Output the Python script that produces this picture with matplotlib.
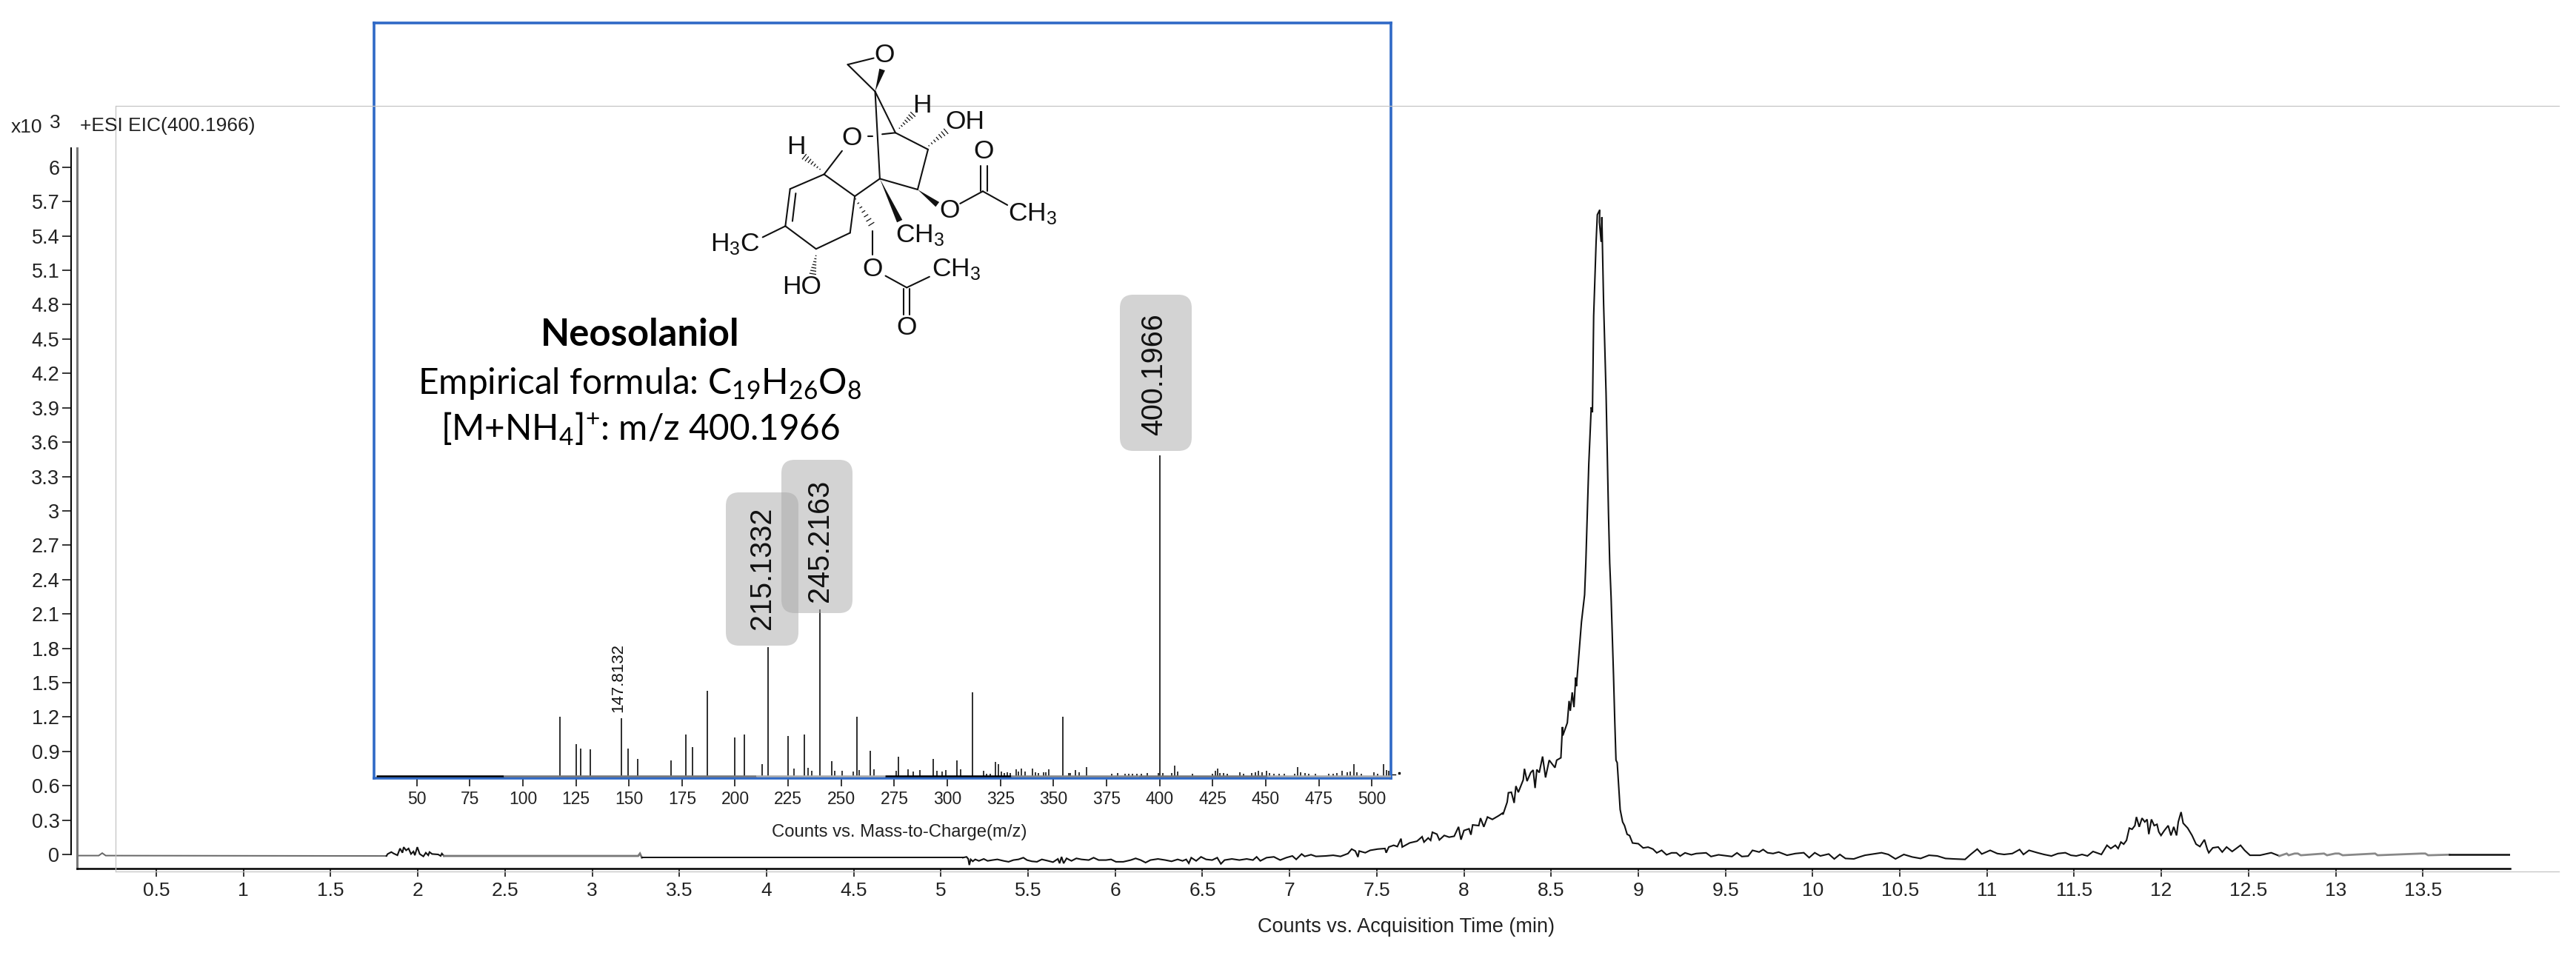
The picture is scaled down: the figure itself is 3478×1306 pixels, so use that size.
import matplotlib
matplotlib.use("Agg")
import matplotlib.pyplot as plt
from matplotlib.patches import FancyBboxPatch, Polygon
import numpy as np

W, H = 3478, 1306

plt.rcParams["font.family"] = ["Liberation Sans", "DejaVu Sans"]
plt.rcParams["mathtext.default"] = "regular"

# ==============================
# EIC TRACE (min, counts x10^3)
# ==============================
trace_start = [(0.05, -0.01), (0.17, -0.01), (0.19, 0.012), (0.21, -0.01), (1.82, -0.013)]

trace_bump = [
    (1.827, 0.004), (1.848, 0.021), (1.862, 0.008), (1.883, -0.007), (1.898, 0.052), (1.912, 0.015),
    (1.919, 0.064), (1.933, 0.036), (1.947, 0.052), (1.961, 0.004), (1.975, 0.026), (1.983, -0.007),
    (1.997, 0.064), (2.011, 0.004), (2.032, -0.017), (2.046, 0.015), (2.06, -0.007), (2.067, 0.021),
    (2.082, 0.004), (2.117, 0.0), (2.131, -0.013), (2.138, 0.008), (2.15, -0.013), (3.264, -0.013),
    (3.274, 0.008), (3.285, -0.028), (5.126, -0.028),
]

trace_baseline = [
    (5.147, -0.021), (5.157, -0.039), (5.163, -0.092), (5.171, -0.043), (5.183, -0.06), (5.197, -0.043),
    (5.218, -0.056), (5.246, -0.039), (5.268, -0.056), (5.296, -0.049), (5.324, -0.043), (5.36, -0.056),
    (5.388, -0.064), (5.416, -0.049), (5.445, -0.043), (5.473, -0.028), (5.494, -0.049), (5.522, -0.06),
    (5.551, -0.064), (5.579, -0.043), (5.615, -0.056), (5.643, -0.067), (5.671, -0.039), (5.681, -0.077),
    (5.692, -0.021), (5.704, -0.077), (5.721, -0.034), (5.749, -0.056), (5.777, -0.034), (5.806, -0.043),
    (5.848, -0.049), (5.876, -0.028), (5.905, -0.049), (5.947, -0.049), (5.976, -0.043), (6.004, -0.064),
    (6.046, -0.064), (6.089, -0.049), (6.117, -0.034), (6.146, -0.049), (6.174, -0.071), (6.202, -0.049),
    (6.245, -0.039), (6.287, -0.049), (6.323, -0.06), (6.358, -0.043), (6.386, -0.056), (6.407, -0.043),
    (6.422, -0.077), (6.436, -0.028), (6.464, -0.056), (6.492, -0.021), (6.521, -0.043), (6.556, -0.049),
    (6.585, -0.028), (6.606, -0.082), (6.627, -0.049), (6.669, -0.039), (6.712, -0.049), (6.754, -0.039),
    (6.79, -0.049), (6.811, -0.021), (6.832, -0.056), (6.868, -0.028), (6.91, -0.021), (6.946, -0.049),
    (6.981, -0.028), (7.016, -0.013), (7.038, -0.043), (7.069, 0.004), (7.087, -0.017), (7.123, -0.002),
    (7.151, -0.017),
]

trace_rise = [
    (7.207, -0.013), (7.25, -0.007), (7.292, -0.017), (7.335, 0.008), (7.356, 0.047), (7.377, 0.03),
    (7.392, -0.022), (7.399, 0.03), (7.434, 0.015), (7.462, 0.036), (7.505, 0.047), (7.547, 0.052),
    (7.554, 0.015), (7.569, 0.065), (7.597, 0.08), (7.618, 0.069), (7.639, 0.138), (7.646, 0.065),
    (7.689, 0.101), (7.731, 0.116), (7.76, 0.155), (7.771, 0.108), (7.795, 0.144), (7.809, 0.123),
    (7.819, 0.194), (7.845, 0.177), (7.859, 0.127), (7.887, 0.166), (7.915, 0.151), (7.944, 0.159),
    (7.969, 0.241), (7.983, 0.129), (8.0, 0.209), (8.029, 0.224), (8.04, 0.172), (8.05, 0.258),
    (8.085, 0.252), (8.095, 0.317), (8.114, 0.241), (8.135, 0.327), (8.163, 0.306), (8.199, 0.338),
    (8.22, 0.36), (8.224, 0.349), (8.248, 0.457), (8.255, 0.539), (8.272, 0.543), (8.288, 0.45),
    (8.298, 0.597), (8.312, 0.543), (8.34, 0.651), (8.347, 0.748), (8.362, 0.64), (8.383, 0.715),
    (8.397, 0.737), (8.408, 0.58), (8.418, 0.741), (8.432, 0.715), (8.451, 0.855), (8.468, 0.672),
    (8.489, 0.823), (8.522, 0.758), (8.532, 0.823), (8.556, 0.844), (8.565, 1.113), (8.567, 1.038),
    (8.593, 1.15), (8.603, 1.34), (8.61, 1.254), (8.621, 1.415), (8.631, 1.286), (8.641, 1.545),
    (8.645, 1.469), (8.66, 1.76), (8.674, 2.029), (8.692, 2.267),
]

trace_peak = [
    (8.699, 2.546), (8.716, 3.408), (8.73, 3.904), (8.737, 3.861), (8.744, 4.701), (8.758, 5.348),
    (8.765, 5.585), (8.779, 5.628), (8.777, 5.52), (8.787, 5.348), (8.791, 5.563), (8.801, 4.809),
    (8.815, 4.033), (8.829, 2.977), (8.836, 2.546), (8.844, 2.245), (8.858, 1.555), (8.865, 1.167),
    (8.872, 0.823), (8.879, 0.801), (8.896, 0.392), (8.91, 0.284), (8.921, 0.252), (8.936, 0.176),
    (8.95, 0.165), (8.967, 0.1),
]

trace_tail = [
    (9.0, 0.094), (9.028, 0.057), (9.056, 0.064), (9.084, 0.047), (9.106, 0.014), (9.134, 0.036),
    (9.162, -0.003), (9.191, 0.014), (9.219, 0.014), (9.24, -0.014), (9.268, 0.014), (9.304, -0.003),
    (9.332, 0.008), (9.389, 0.014), (9.417, -0.018), (9.46, -0.003), (9.502, -0.011), (9.537, -0.018),
    (9.566, 0.014), (9.594, -0.018), (9.63, -0.014), (9.655, 0.036), (9.693, 0.021), (9.716, 0.043),
    (9.741, 0.015), (9.773, 0.008), (9.805, 0.021), (9.853, -0.007), (9.901, 0.008), (9.949, 0.015),
    (9.98, -0.028), (10.012, 0.015), (10.044, -0.013), (10.092, 0.004), (10.124, -0.039), (10.156, 0.0),
    (10.188, -0.035), (10.236, -0.039), (10.268, -0.022), (10.3, -0.007), (10.348, 0.004), (10.395, 0.015),
    (10.434, 0.0), (10.475, -0.039), (10.523, 0.0), (10.571, -0.022), (10.619, -0.035), (10.667, -0.007),
    (10.715, -0.013), (10.762, -0.035), (10.81, -0.039), (10.874, -0.043), (10.906, 0.0), (10.944, 0.047),
    (10.97, 0.004), (11.018, 0.036), (11.059, 0.008), (11.098, 0.0), (11.145, 0.008), (11.187, 0.043),
    (11.209, 0.0), (11.241, 0.036), (11.289, 0.015), (11.327, 0.0), (11.369, -0.013), (11.407, 0.008),
    (11.449, 0.015), (11.481, -0.007), (11.512, -0.013), (11.545, 0.0), (11.576, -0.013), (11.608, 0.026),
    (11.656, 0.0), (11.688, 0.08), (11.71, 0.052), (11.736, 0.08), (11.752, 0.052), (11.768, 0.108),
    (11.784, 0.09), (11.8, 0.123), (11.816, 0.23), (11.832, 0.22), (11.848, 0.252), (11.857, 0.327),
    (11.873, 0.241), (11.889, 0.317), (11.905, 0.284), (11.918, 0.306), (11.928, 0.177), (11.943, 0.306),
    (11.959, 0.252), (11.975, 0.263), (11.985, 0.198), (11.998, 0.166), (12.017, 0.209), (12.039, 0.252),
    (12.055, 0.166), (12.071, 0.241), (12.087, 0.166), (12.097, 0.284), (12.113, 0.37), (12.125, 0.273),
    (12.151, 0.23), (12.176, 0.166), (12.199, 0.09), (12.221, 0.069), (12.247, 0.129), (12.263, 0.047),
    (12.272, 0.015), (12.295, 0.058), (12.326, 0.065), (12.349, 0.021), (12.374, 0.065), (12.406, 0.026),
    (12.454, 0.08), (12.477, 0.037), (12.508, -0.007), (12.566, -0.007), (12.63, 0.015), (12.677, -0.013),
]

trace_end = [
    (12.719, 0.008), (12.73, -0.007), (12.764, 0.008), (12.783, 0.008), (12.8, -0.007), (12.933, 0.008),
    (12.95, -0.007), (12.997, 0.008), (13.019, 0.008), (13.04, -0.007), (13.226, 0.008), (13.24, -0.007),
    (13.491, 0.008), (13.514, 0.008), (13.53, -0.007), (13.651, -0.002), (14.0, -0.002),
]

# (from, to, colour, width) - the export greys some stretches of the line
trace_styles = [
    (0.0, 1.82, "#666666", 1.4),
    (1.82, 2.15, "#111111", 1.5),
    (2.15, 3.285, "#777777", 2.0),
    (3.285, 5.126, "#111111", 1.4),
    (5.126, 12.677, "#111111", 1.5),
    (12.677, 13.651, "#888888", 2.0),
    (13.651, 14.0, "#111111", 1.8),
]

x_ticks = [0.5, 1, 1.5, 2, 2.5, 3, 3.5, 4, 4.5, 5, 5.5, 6, 6.5, 7, 7.5, 8, 8.5, 9, 9.5, 10, 10.5, 11, 11.5, 12, 12.5, 13, 13.5]
x_labels = ["0.5", "1", "1.5", "2", "2.5", "3", "3.5", "4", "4.5", "5", "5.5", "6", "6.5", "7", "7.5", "8", "8.5", "9", "9.5", "10", "10.5", "11", "11.5", "12", "12.5", "13", "13.5"]
y_ticks = [0, 0.3, 0.6, 0.9, 1.2, 1.5, 1.8, 2.1, 2.4, 2.7, 3, 3.3, 3.6, 3.9, 4.2, 4.5, 4.8, 5.1, 5.4, 5.7, 6]
y_labels = ["0", "0.3", "0.6", "0.9", "1.2", "1.5", "1.8", "2.1", "2.4", "2.7", "3", "3.3", "3.6", "3.9", "4.2", "4.5", "4.8", "5.1", "5.4", "5.7", "6"]

# ==============================
# INSET SPECTRUM (m/z, % of base peak)
# ==============================
main_peaks = [
    (117.6, 18.3), (125.3, 9.8), (127.2, 8.5), (131.7, 8.2), (146.5, 17.9), (149.7, 8.5), (154.2, 5.2),
    (169.9, 4.8), (176.9, 12.9), (179.8, 9.0), (186.8, 26.5), (200.0, 11.9), (204.5, 12.9), (212.8, 3.6),
    (215.4, 40.1), (225.0, 12.4), (232.7, 12.9), (240.0, 51.9), (245.5, 4.4), (257.4, 18.3), (263.8, 7.7),
    (276.9, 6.0), (293.3, 5.2), (304.5, 4.8), (311.9, 26.1), (354.5, 18.3), (400.3, 100.0),
]
small_peaks = [
    (227.6, 2.2), (234.3, 2.5), (236.0, 1.4), (247.1, 1.6), (250.6, 1.4), (255.8, 1.2), (258.5, 1.8),
    (265.4, 2.0), (276.0, 1.6), (281.4, 2.0), (284.0, 1.2), (287.2, 1.8), (295.2, 1.6), (297.4, 1.2),
    (299.4, 1.8), (306.4, 2.0), (317.2, 1.5), (318.4, 0.6), (320.2, 0.6), (322.5, 4.2), (324.2, 3.5),
    (325.3, 1.2), (326.9, 0.9), (328.2, 1.1), (329.5, 0.9), (332.6, 1.9), (333.5, 1.2), (334.9, 2.1),
    (336.6, 1.2), (340.2, 2.1), (341.5, 1.1), (342.9, 0.9), (345.5, 1.1), (346.5, 1.1), (347.8, 1.9),
    (357.2, 0.9), (358.0, 0.9), (360.2, 1.8), (362.0, 1.1), (365.6, 2.6), (377.6, 0.6), (380.3, 0.9),
    (383.6, 0.6), (385.6, 0.6), (387.2, 0.6), (389.2, 0.6), (391.3, 0.6), (394.3, 0.9), (399.6, 0.9),
    (401.6, 0.9), (405.6, 0.9), (407.2, 3.1), (408.6, 1.2), (415.6, 0.6), (425.0, 0.6), (426.3, 1.5),
    (427.3, 2.1), (428.3, 0.9), (430.3, 0.9), (431.9, 0.6), (437.7, 1.1), (439.4, 0.6), (443.4, 0.9),
    (445.0, 1.1), (446.4, 1.5), (448.4, 1.1), (450.4, 1.5), (451.7, 0.9), (453.7, 0.6), (456.4, 0.6),
    (458.6, 0.6), (463.7, 0.6), (465.2, 2.6), (466.4, 1.1), (468.4, 0.9), (470.1, 0.6), (473.5, 0.6),
    (479.7, 0.6), (481.7, 0.6), (483.7, 0.9), (486.1, 1.5), (488.4, 1.1), (489.7, 1.2), (491.5, 3.5),
    (493.1, 1.1), (495.1, 0.6), (501.1, 1.1), (502.7, 0.6), (505.5, 3.5), (506.8, 1.8), (507.8, 1.5),
]
mz_ticks = [50, 75, 100, 125, 150, 175, 200, 225, 250, 275, 300, 325, 350, 375, 400, 425, 450, 475, 500]
baseline_edges = [30.8, 91.0, 210.0, 270.5, 330.0, 390.0, 450.6, 509.0]
baseline_colors = ["#000000", "#777777", "#aaaaaa", "#000000", "#888888", "#777777", "#aaaaaa"]


def px_axes(fig, left, top, right, bottom):
    return fig.add_axes([left / W, 1 - bottom / H, (right - left) / W, (bottom - top) / H])


fig = plt.figure(figsize=(W / 100, H / 100), dpi=100, facecolor="white")

# ==============================
# MAIN CHROMATOGRAM
# ==============================
ax = px_axes(fig, 104, 200, 3389, 1173)
ax.set_xlim(0.0455, 14.0)
ax.set_ylim(-0.1228, 6.167)
ax.patch.set_alpha(0)

eic = np.array(trace_start + trace_bump + trace_baseline + trace_rise + trace_peak + trace_tail + trace_end)
for start, end, color, lw in trace_styles:
    mask = (eic[:, 0] >= start) & (eic[:, 0] <= end)
    ax.plot(eic[mask, 0], eic[mask, 1], color=color, lw=lw, solid_joinstyle="miter")

ax.spines["top"].set_visible(False)
ax.spines["right"].set_visible(False)
ax.spines["bottom"].set_linewidth(1.8)
ax.spines["left"].set_position(("outward", 5.5))
ax.spines["left"].set_bounds(0, 6.167)
ax.spines["left"].set_linewidth(1.4)
ax.axvline(0.0455, color="#777777", lw=2.2, clip_on=False)

ax.set_xticks(x_ticks, x_labels, fontsize=19, color="#222222")
ax.set_yticks(y_ticks, y_labels, fontsize=19.5, color="#222222")
ax.tick_params(axis="x", length=8, width=1.1, pad=5)
ax.tick_params(axis="y", length=8.5, width=1.1, pad=3)

# ==============================
# INSET SPECTRUM
# ==============================
ax_in = px_axes(fig, 505, 31, 1878, 1050.5)
ax_in.set_xlim(29.9, 509)
ax_in.set_ylim(-0.69, 235)
ax_in.patch.set_alpha(0)

for i, color in enumerate(baseline_colors):
    ax_in.plot(baseline_edges[i:i + 2], [0, 0], color=color, lw=1.8, solid_capstyle="butt", zorder=3.5)
ax_in.plot([509, 511], [0.3, 0.3], color="black", lw=1, clip_on=False)
ax_in.plot([513], [0.8], marker="s", ms=1.8, color="black", clip_on=False)

mz, rel = np.array(main_peaks).T
ax_in.vlines(mz, 0, rel, color="#000000", lw=1.15)
mz, rel = np.array(small_peaks).T
ax_in.vlines(mz, 0, rel, color="#000000", lw=1.1)

for side in ax_in.spines.values():
    side.set_color("#2f69c6")
    side.set_linewidth(2.6)
ax_in.set_yticks([])
ax_in.set_xticks(mz_ticks, [str(m) for m in mz_ticks], fontsize=16.5, color="#222222")
ax_in.tick_params(axis="x", length=8, width=1.1, pad=4.5)

ax_in.annotate("147.8132", xy=(146.5, 17.9), xytext=(-3, 6), textcoords="offset points",
               rotation=90, ha="center", va="bottom", fontsize=16, color="#111111")

# ==============================
# OVERLAY (pixel coordinates): guides, texts, labels, structure
# ==============================
ov = fig.add_axes([0, 0, 1, 1], zorder=5)
ov.set_xlim(0, W)
ov.set_ylim(H, 0)
ov.axis("off")
ov.patch.set_alpha(0)

ov.plot([157, 3455], [143, 143], color="#c4c4c4", lw=0.9, zorder=0)
ov.plot([156, 156], [143, 1177], color="#c4c4c4", lw=0.9, zorder=0)
ov.plot([156, 3455], [1177, 1177], color="#c4c4c4", lw=0.9, zorder=0)

ov.text(15, 172, "x10", fontsize=19, color="#222222", va="center")
ov.text(67, 166, "3", fontsize=19, color="#222222", va="center")
ov.text(108, 170, "+ESI EIC(400.1966)", fontsize=19, color="#222222", va="center")
ov.text(1899, 1252, "Counts vs. Acquisition Time (min)", fontsize=19.5, color="#222222", ha="center", va="center")
ov.text(1214, 1124, "Counts vs. Mass-to-Charge(m/z)", fontsize=17.2, color="#222222", ha="center", va="center")

ov.text(864, 467, "Neosolaniol", family="Lato", weight="bold", fontsize=36.5, ha="center", va="baseline", color="#000000")
ov.text(864, 532, "Empirical formula: C$_{19}$H$_{26}$O$_{8}$", family="Lato", fontsize=34.5, ha="center", va="baseline", color="#000000")
ov.text(864, 595, "[M+NH$_{4}$]$^{+}$: m/z 400.1966", family="Lato", fontsize=34.3, ha="center", va="baseline", color="#000000")

for left, top, right, bottom, label, tx, ty in [
    (1512, 398, 1609, 609, "400.1966", 1558, 506),
    (980, 665, 1078, 872, "215.1332", 1029, 767),
    (1055, 621, 1151, 828, "245.2163", 1107, 730),
]:
    ov.add_patch(FancyBboxPatch((left, top), right - left, bottom - top,
                                boxstyle="round,pad=0,rounding_size=18", fc="#a8a8a8", ec="none", alpha=0.5))
    ov.text(tx, ty, label, rotation=90, fontsize=28.5, ha="center", va="center", color="#111111")


def z(x, y):
    return 480 + x / 1.568, 20 + y / 2.53


bonds = [
    ((1042, 170), (1097, 148)), ((1042, 170), (1100, 262)), ((1100, 262), (1110, 560)), ((1100, 262), (1143, 403)),
    ((1085, 415), (1095, 415)), ((1115, 408), (1143, 403)), ((1143, 403), (1212, 460)), ((1212, 460), (1190, 597)),
    ((1190, 597), (1110, 560)), ((1280, 645), (1328, 603)), ((1323, 603), (1323, 515)), ((1337, 603), (1337, 515)),
    ((1328, 603), (1380, 650)), ((1110, 560), (1057, 620)), ((1057, 620), (992, 545)), ((992, 545), (1030, 465)),
    ((992, 545), (920, 595)), ((920, 595), (910, 722)), ((932, 610), (925, 705)), ((910, 722), (862, 760)),
    ((910, 722), (975, 800)), ((975, 800), (1047, 745)), ((1047, 745), (1057, 620)), ((1095, 738), (1095, 820)),
    ((1122, 892), (1167, 932)), ((1167, 932), (1215, 895)), ((1160, 935), (1160, 1025)), ((1173, 935), (1173, 1025)),
]
wedges = [((1100, 262), (1115, 187)), ((1190, 597), (1232, 648)), ((1110, 560), (1152, 705))]
hashes = [
    ((1150, 390), (1180, 340)), ((1212, 450), (1250, 398)), ((985, 530), (950, 485)),
    ((975, 820), (968, 885)), ((1057, 625), (1092, 715)),
]
atoms = [
    (1120, 138, "O"), (1200, 310, "H"), (1290, 365, "OH"), (1050, 420, "O"), (932, 452, "H"), (1330, 468, "O"),
    (1258, 668, "O"), (1433, 680, "CH$_3$"), (1195, 755, "CH$_3$"), (803, 785, "H$_3$C"), (945, 930, "HO"),
    (1095, 868, "O"), (1272, 870, "CH$_3$"), (1167, 1068, "O"),
]

for a, b in bonds:
    (x0, y0), (x1, y1) = z(*a), z(*b)
    ov.plot([x0, x1], [y0, y1], color="#111111", lw=1.5, solid_capstyle="round")

for a, b in wedges:
    (x0, y0), (x1, y1) = z(*a), z(*b)
    nx, ny = -(y1 - y0), x1 - x0
    n = np.hypot(nx, ny)
    nx, ny = nx / n * 4, ny / n * 4
    ov.add_patch(Polygon([(x0, y0), (x1 + nx, y1 + ny), (x1 - nx, y1 - ny)], fc="#111111", ec="none"))

for a, b in hashes:
    (x0, y0), (x1, y1) = z(*a), z(*b)
    nx, ny = -(y1 - y0), x1 - x0
    n = np.hypot(nx, ny)
    nx, ny = nx / n, ny / n
    for f in np.linspace(0.05, 1, 7):
        cx, cy = x0 + (x1 - x0) * f, y0 + (y1 - y0) * f
        ov.plot([cx - nx * 4 * f, cx + nx * 4 * f], [cy - ny * 4 * f, cy + ny * 4 * f], color="#111111", lw=0.9)

for x, y, label in atoms:
    px, py = z(x, y)
    ov.text(px, py, label, fontsize=25.5, color="#111111", ha="center", va="center")

plt.savefig("out.png", dpi=100)
plt.close()
